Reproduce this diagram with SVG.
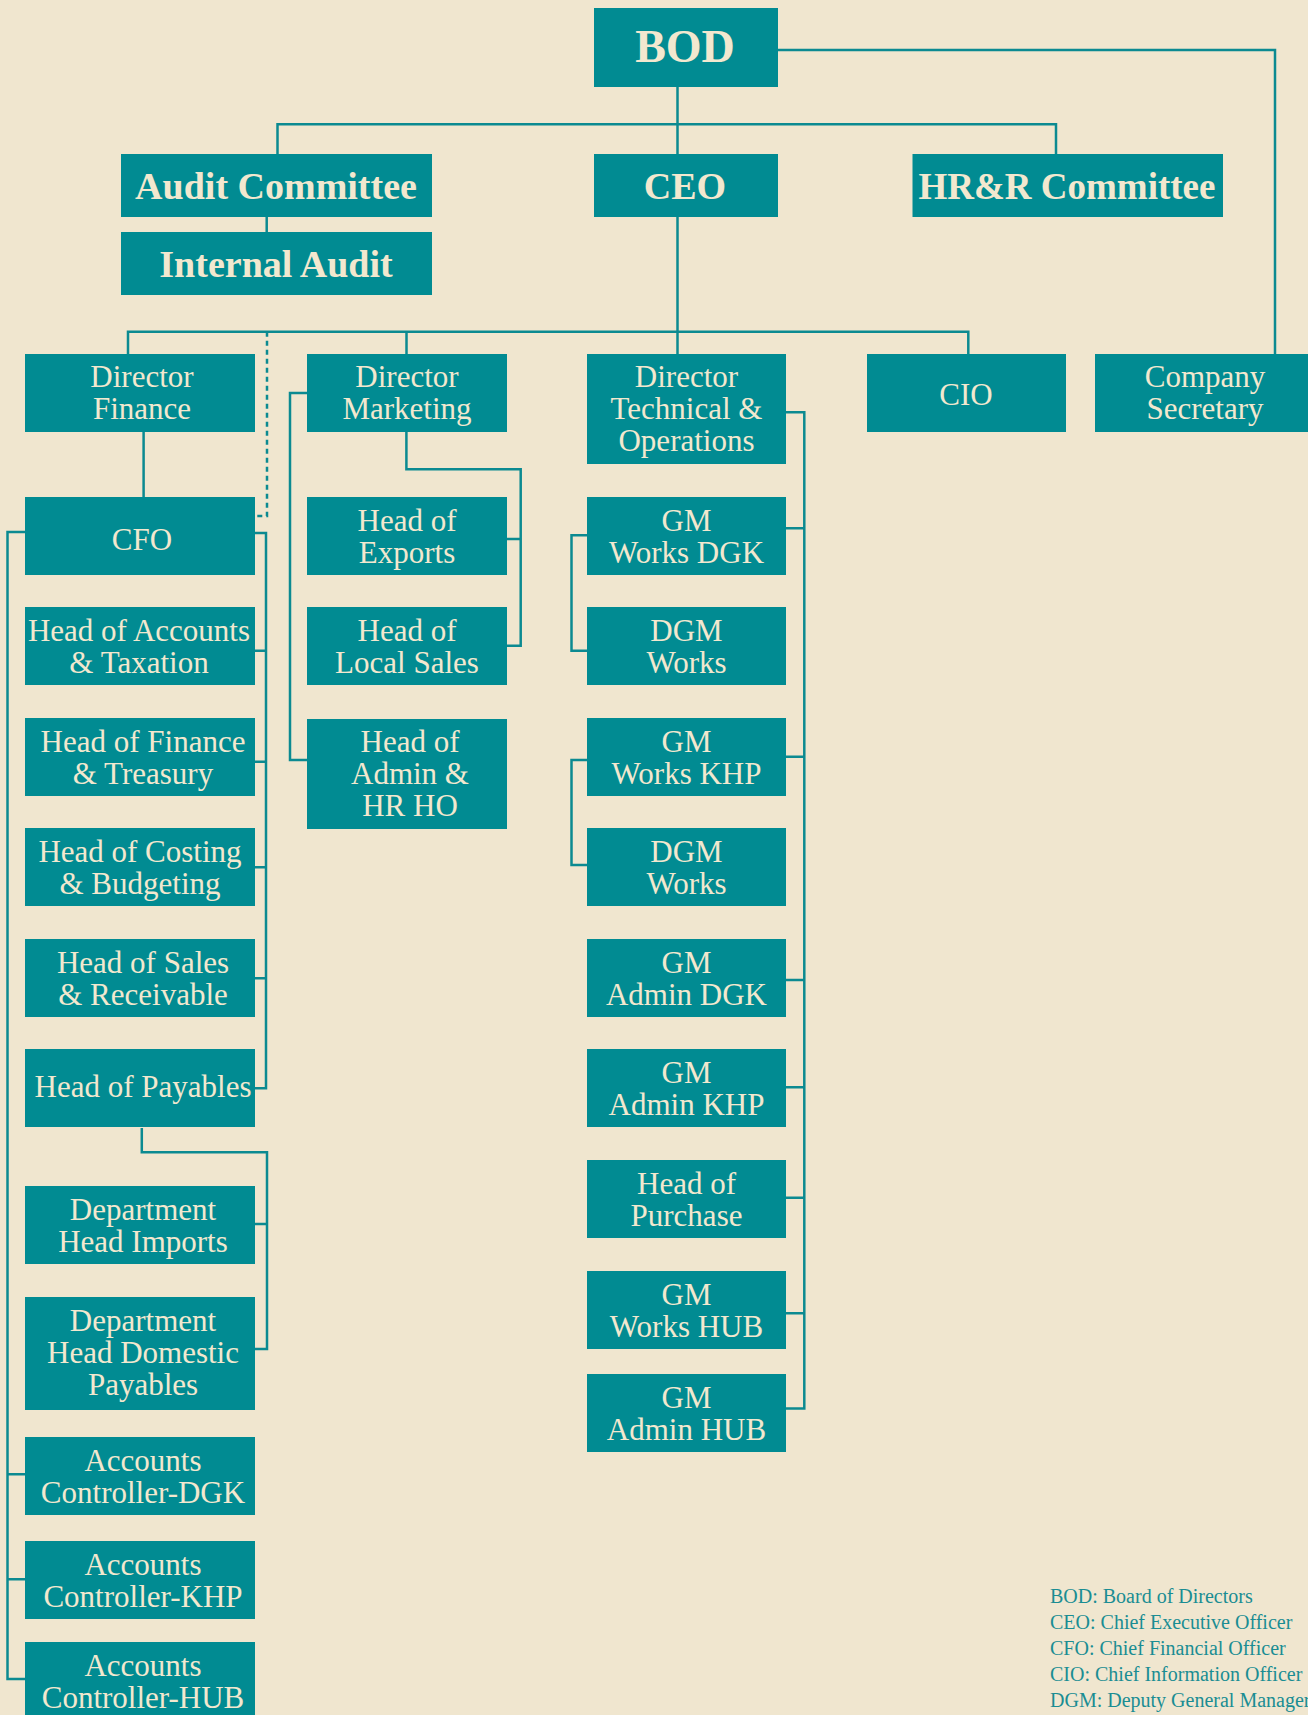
<svg xmlns="http://www.w3.org/2000/svg" width="1308" height="1715" viewBox="0 0 1308 1715">
<style>
.bg{fill:#f0e6cf}
.box{fill:#018b92}
.t{font-family:"Liberation Serif","Times New Roman",serif;font-size:31px;fill:#f2e8cf;text-anchor:middle}
.tb{font-family:"Liberation Serif","Times New Roman",serif;font-size:38px;font-weight:bold;fill:#f2e8cf;text-anchor:middle}
.c{fill:none;stroke:#0b8a91;stroke-width:2.5}
.d{fill:none;stroke:#0b8a91;stroke-width:2.5;stroke-dasharray:5 4}
.lg{font-family:"Liberation Serif","Times New Roman",serif;font-size:20px;fill:#1a8d93}
</style>
<rect class="bg" x="0" y="0" width="1308" height="1715"/>
<g id="connectors">
<path class="c" d="M677.5 87V354"/>
<path class="c" d="M277.5 154V124.3H1056V154"/>
<path class="c" d="M778 50H1275V354"/>
<path class="c" d="M266.7 217V232"/>
<path class="c" d="M128 354V331.7H968.3V354"/>
<path class="c" d="M406.5 331.7V354"/>
<path class="d" d="M267 331.7V516H255"/>
<path class="c" d="M143.6 432V497"/>
<path class="c" d="M25 532H7.5V1679H25M7.5 1474.3H25M7.5 1579.3H25"/>
<path class="c" d="M255 533H266V1088.3H255M266 650.7H255M266 761.7H255M266 867.3H255M266 978.3H255"/>
<path class="c" d="M141.8 1128V1152.3H267V1349H255M267 1224H255"/>
<path class="c" d="M307 393H290V760H307"/>
<path class="c" d="M406.4 432V469.3H520.7V645.7H507M520.7 539H507"/>
<path class="c" d="M786 412.3H804.3V1408.6H786M804.3 528.3H786M804.3 756.7H786M804.3 980H786M804.3 1087.3H786M804.3 1197.7H786M804.3 1313.3H786"/>
<path class="c" d="M587 535.3H571.5V650.7H587"/>
<path class="c" d="M587 760H571.5V865H587"/>
</g>
<g id="bod"><rect class="box" x="594" y="8" width="184" height="79"/><text class="tb" x="685" y="62" style="font-size:46px">BOD</text></g>
<g id="audit-committee"><rect class="box" x="121" y="154" width="311" height="63"/><text class="tb" x="276" y="199">Audit Committee</text></g>
<g id="ceo"><rect class="box" x="594" y="154" width="184" height="63"/><text class="tb" x="685" y="199">CEO</text></g>
<g id="hrr-committee"><rect class="box" x="912.5" y="154" width="310.5" height="63"/><text class="tb" x="1067" y="199" style="font-size:37px">HR&amp;R Committee</text></g>
<g id="internal-audit"><rect class="box" x="121" y="232" width="311" height="63"/><text class="tb" x="276" y="277">Internal Audit</text></g>

<g id="director-finance"><rect class="box" x="25" y="354" width="230" height="78"/><text class="t" x="142" y="387">Director</text><text class="t" x="142" y="419">Finance</text></g>
<g id="director-marketing"><rect class="box" x="307" y="354" width="200" height="78"/><text class="t" x="407" y="387">Director</text><text class="t" x="407" y="419">Marketing</text></g>
<g id="director-technical"><rect class="box" x="587" y="354" width="199" height="110"/><text class="t" x="686.5" y="387">Director</text><text class="t" x="686.5" y="419">Technical &amp;</text><text class="t" x="686.5" y="451">Operations</text></g>
<g id="cio"><rect class="box" x="867" y="354" width="199" height="78"/><text class="t" x="966" y="405">CIO</text></g>
<g id="company-secretary"><rect class="box" x="1095" y="354" width="220" height="78"/><text class="t" x="1205" y="387">Company</text><text class="t" x="1205" y="419">Secretary</text></g>

<g id="cfo"><rect class="box" x="25" y="497" width="230" height="78"/><text class="t" x="142" y="550">CFO</text></g>
<g id="head-accounts"><rect class="box" x="25" y="607" width="230" height="78"/><text class="t" x="139" y="641">Head of Accounts</text><text class="t" x="139" y="673">&amp; Taxation</text></g>
<g id="head-finance"><rect class="box" x="25" y="718" width="230" height="78"/><text class="t" x="143" y="752">Head of Finance</text><text class="t" x="143" y="784">&amp; Treasury</text></g>
<g id="head-costing"><rect class="box" x="25" y="828" width="230" height="78"/><text class="t" x="140" y="862">Head of Costing</text><text class="t" x="140" y="894">&amp; Budgeting</text></g>
<g id="head-sales"><rect class="box" x="25" y="939" width="230" height="78"/><text class="t" x="143" y="973">Head of Sales</text><text class="t" x="143" y="1005">&amp; Receivable</text></g>
<g id="head-payables"><rect class="box" x="25" y="1049" width="230" height="78"/><text class="t" x="143" y="1097">Head of Payables</text></g>
<g id="dept-imports"><rect class="box" x="25" y="1186" width="230" height="78"/><text class="t" x="143" y="1220">Department</text><text class="t" x="143" y="1252">Head Imports</text></g>
<g id="dept-domestic"><rect class="box" x="25" y="1297" width="230" height="113"/><text class="t" x="143" y="1331">Department</text><text class="t" x="143" y="1363">Head Domestic</text><text class="t" x="143" y="1395">Payables</text></g>
<g id="acc-dgk"><rect class="box" x="25" y="1437" width="230" height="78"/><text class="t" x="143" y="1471">Accounts</text><text class="t" x="143" y="1503">Controller-DGK</text></g>
<g id="acc-khp"><rect class="box" x="25" y="1541" width="230" height="78"/><text class="t" x="143" y="1575">Accounts</text><text class="t" x="143" y="1607">Controller-KHP</text></g>
<g id="acc-hub"><rect class="box" x="25" y="1642" width="230" height="80"/><text class="t" x="143" y="1676">Accounts</text><text class="t" x="143" y="1708">Controller-HUB</text></g>

<g id="head-exports"><rect class="box" x="307" y="497" width="200" height="78"/><text class="t" x="407" y="531">Head of</text><text class="t" x="407" y="563">Exports</text></g>
<g id="head-local-sales"><rect class="box" x="307" y="607" width="200" height="78"/><text class="t" x="407" y="641">Head of</text><text class="t" x="407" y="673">Local Sales</text></g>
<g id="head-admin"><rect class="box" x="307" y="719" width="200" height="110"/><text class="t" x="410" y="752">Head of</text><text class="t" x="410" y="784">Admin &amp;</text><text class="t" x="410" y="816">HR HO</text></g>

<g id="gm-works-dgk"><rect class="box" x="587" y="497" width="199" height="78"/><text class="t" x="686.5" y="531">GM</text><text class="t" x="686.5" y="563">Works DGK</text></g>
<g id="dgm-works-1"><rect class="box" x="587" y="607" width="199" height="78"/><text class="t" x="686.5" y="641">DGM</text><text class="t" x="686.5" y="673">Works</text></g>
<g id="gm-works-khp"><rect class="box" x="587" y="718" width="199" height="78"/><text class="t" x="686.5" y="752">GM</text><text class="t" x="686.5" y="784">Works KHP</text></g>
<g id="dgm-works-2"><rect class="box" x="587" y="828" width="199" height="78"/><text class="t" x="686.5" y="862">DGM</text><text class="t" x="686.5" y="894">Works</text></g>
<g id="gm-admin-dgk"><rect class="box" x="587" y="939" width="199" height="78"/><text class="t" x="686.5" y="973">GM</text><text class="t" x="686.5" y="1005">Admin DGK</text></g>
<g id="gm-admin-khp"><rect class="box" x="587" y="1049" width="199" height="78"/><text class="t" x="686.5" y="1083">GM</text><text class="t" x="686.5" y="1115">Admin KHP</text></g>
<g id="head-purchase"><rect class="box" x="587" y="1160" width="199" height="78"/><text class="t" x="686.5" y="1194">Head of</text><text class="t" x="686.5" y="1226">Purchase</text></g>
<g id="gm-works-hub"><rect class="box" x="587" y="1271" width="199" height="78"/><text class="t" x="686.5" y="1305">GM</text><text class="t" x="686.5" y="1337">Works HUB</text></g>
<g id="gm-admin-hub"><rect class="box" x="587" y="1374" width="199" height="78"/><text class="t" x="686.5" y="1408">GM</text><text class="t" x="686.5" y="1440">Admin HUB</text></g>

<g id="legend">
<text class="lg" x="1050" y="1603">BOD: Board of Directors</text>
<text class="lg" x="1050" y="1629">CEO: Chief Executive Officer</text>
<text class="lg" x="1050" y="1655">CFO: Chief Financial Officer</text>
<text class="lg" x="1050" y="1681">CIO: Chief Information Officer</text>
<text class="lg" x="1050" y="1707">DGM: Deputy General Manager</text>
</g>
</svg>
